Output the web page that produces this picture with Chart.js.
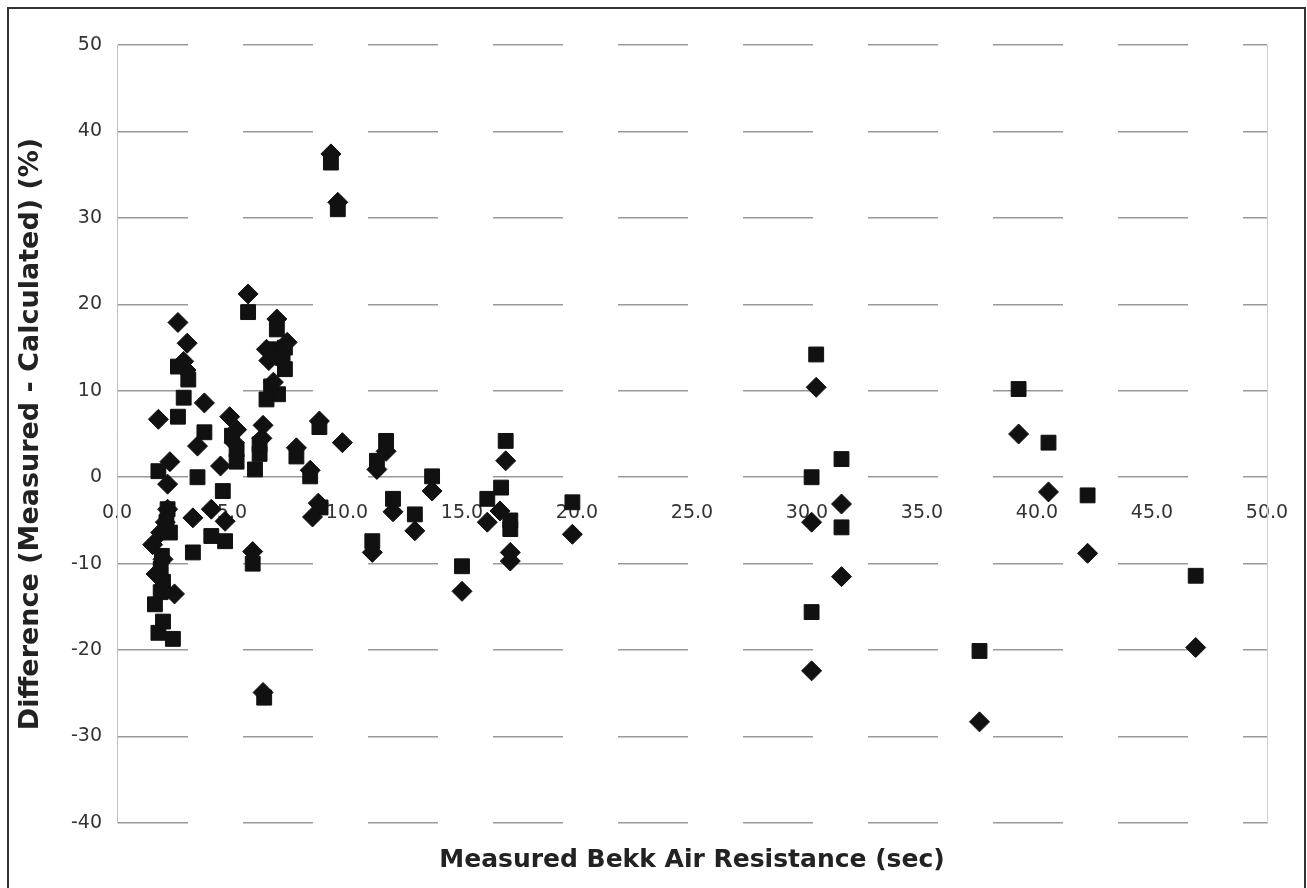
<!DOCTYPE html>
<html>
<head>
<meta charset="utf-8">
<script src="https://cdn.jsdelivr.net/npm/chart.js@4.4.1/dist/chart.umd.min.js"></script>
<style>
  html, body { margin: 0; padding: 0; background: #fff; }
  #frame { position: absolute; left: 7px; top: 7px; width: 1295px; height: 900px; border: 2px solid #333; }
  #wrap { position: absolute; left: 0; top: 0; width: 1307px; height: 888px; }
</style>
</head>
<body>
<div id="frame"></div>
<div id="wrap"><canvas id="chart" width="1307" height="888"></canvas></div>
<script>
// diamonds
var diamondX = [1.8, 2.65, 3.05, 2.9, 3.0, 2.3, 2.2, 1.55, 2.2, 2.1, 1.9, 1.7, 2.5, 2.0,
    3.8, 3.5, 3.3, 4.1, 4.7, 4.5, 4.9, 5.2, 5.1, 5.9, 5.7, 6.35, 6.3, 6.35,
    6.95, 7.4, 6.5, 6.8, 6.6, 7.8, 8.4, 8.8, 8.75, 8.5, 9.3, 9.6, 9.8,
    11.7, 11.3, 12.0, 12.95, 11.1, 13.7, 15.0, 16.9, 16.65, 16.1, 17.1, 17.1, 19.8,
    30.4, 30.2, 31.5, 31.5, 30.2, 39.2, 40.5, 42.2, 46.9, 37.5];
var diamondY = [6.7, 17.9, 15.5, 13.4, 12.4, 1.8, -0.8, -7.8, -3.7, -5.2, -6.4, -11.2, -13.5, -9.5,
    8.6, 3.6, -4.7, -3.7, -5.1, 1.3, 7.0, 5.5, 4.0, -8.6, 21.2, 6.0, 4.5, -24.9,
    18.3, 15.6, 14.8, 11.0, 13.5, 3.4, 0.8, 6.5, -3.0, -4.6, 37.4, 31.8, 4.0,
    3.0, 0.9, -4.0, -6.2, -8.7, -1.6, -13.2, 1.9, -3.9, -5.2, -8.7, -9.7, -6.6,
    10.4, -5.2, -3.1, -11.5, -22.4, 5.0, -1.7, -8.8, -19.7, -28.3];

// squares
var squareX = [2.43, 1.8, 2.0, 1.65, 1.9, 2.0, 1.9, 1.95, 2.3, 2.15, 2.2, 1.8, 2.65, 2.9, 3.1, 2.65,
    3.8, 3.5, 3.3, 4.1, 4.7, 4.6, 5.0, 5.2, 5.2, 5.7, 5.9, 6.0, 6.2, 6.2, 6.4,
    6.95, 6.8, 7.2, 7.3, 6.7, 7.0, 6.5, 7.3, 7.8, 8.4, 8.8, 8.85, 9.3, 9.6,
    11.7, 11.3, 12.0, 12.95, 11.1, 13.7, 15.0, 16.9, 16.7, 16.1, 17.1, 17.1, 19.8,
    30.4, 31.5, 30.2, 31.5, 30.2, 39.2, 40.5, 42.2, 46.9, 37.5];
var squareY = [-18.7, -18.0, -16.7, -14.7, -13.3, -12.1, -10.6, -9.1, -6.4, -5.2, -3.7, 0.7, 7.0, 9.2, 11.3, 12.8,
    5.2, 0.0, -8.7, -6.8, -7.4, -1.6, 4.8, 3.2, 1.8, 19.1, -10.0, 0.9, 2.7, 3.8, -25.5,
    17.1, 14.8, 13.8, 12.5, 10.5, 9.6, 9.0, 15.0, 2.4, 0.1, 5.8, -3.5, 36.4, 31.0,
    4.2, 1.9, -2.5, -4.3, -7.4, 0.1, -10.3, 4.2, -1.2, -2.5, -6.0, -5.0, -2.9,
    14.2, 2.1, 0.0, -5.8, -15.6, 10.2, 4.0, -2.1, -11.4, -20.1];

var xTicks = [0, 5, 10, 15, 20, 25, 30, 35, 40, 45, 50];
var yTicks = [-40, -30, -20, -10, 0, 10, 20, 30, 40, 50];

function toPoints(xs, ys) {
    return xs.map(function (x, i) { return {x: x, y: ys[i]}; });
}

function noSidePadding(scale) {
    scale.paddingLeft = 0;
    scale.paddingRight = 0;
}

var tickFont = {family: 'DejaVu Sans', size: 19};

new Chart(document.getElementById('chart').getContext('2d'), {
    type: 'scatter',
    data: {
        datasets: [
            {
                label: 'diamonds',
                data: toPoints(diamondX, diamondY),
                pointStyle: 'rectRot',
                pointRadius: 10,
                backgroundColor: '#111',
                borderColor: '#111',
                borderWidth: 1
            },
            {
                label: 'squares',
                data: toPoints(squareX, squareY),
                pointStyle: 'rect',
                pointRadius: 10.5,
                backgroundColor: '#111',
                borderColor: '#111',
                borderWidth: 1
            }
        ]
    },
    options: {
        responsive: false,
        animation: false,
        layout: {padding: {left: 10, top: 45, right: 40, bottom: 9}},
        plugins: {legend: {display: false}, tooltip: {enabled: false}},
        scales: {
            x: {
                type: 'linear',
                position: {y: 0},
                min: 0, max: 50,
                afterBuildTicks: function (scale) {
                    scale.ticks = xTicks.map(function (v) { return {value: v}; });
                },
                afterFit: noSidePadding,
                ticks: {
                    font: tickFont, color: '#333', padding: 24, maxRotation: 0, autoSkip: false,
                    callback: function (v) { return Number(v).toFixed(1); }
                },
                grid: {display: false, drawTicks: false},
                border: {display: false}
            },
            x2: {
                type: 'linear',
                position: 'bottom',
                min: 0, max: 50,
                afterFit: noSidePadding,
                ticks: {display: false},
                grid: {display: false, drawTicks: false},
                border: {display: false},
                title: {
                    display: true, text: 'Measured Bekk Air Resistance (sec)',
                    font: {family: 'DejaVu Sans', size: 25, weight: 'bold'},
                    color: '#222', padding: {top: 22, bottom: 4}
                }
            },
            y: {
                type: 'linear',
                min: -40, max: 50,
                afterBuildTicks: function (scale) {
                    scale.ticks = yTicks.map(function (v) { return {value: v}; });
                },
                afterFit: function (scale) { scale.width = 107; },
                ticks: {font: tickFont, color: '#333', padding: 15},
                grid: {color: '#999', lineWidth: 1.5, drawTicks: false},
                border: {display: true, color: '#c0c0c0', width: 1, dash: [70, 55]},
                title: {
                    display: true, text: 'Difference (Measured - Calculated) (%)',
                    font: {family: 'DejaVu Sans', size: 27, weight: 'bold'},
                    color: '#222', padding: {top: 5, bottom: 4}
                }
            },
            y2: {
                type: 'linear',
                position: 'right',
                min: -40, max: 50,
                afterFit: function (scale) { scale.width = 0; },
                ticks: {display: false},
                grid: {display: false, drawTicks: false},
                border: {display: true, color: '#d0d0d0', width: 1}
            }
        }
    }
});
</script>
</body>
</html>
